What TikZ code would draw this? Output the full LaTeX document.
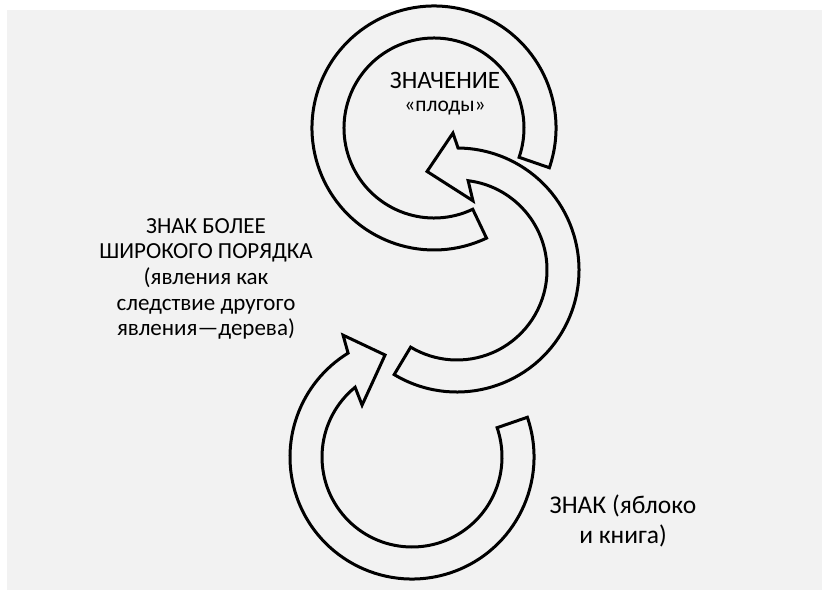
\documentclass[tikz,border=0pt]{standalone}
\usepackage{fontspec}
\setmainfont{Carlito}
\usetikzlibrary{calc}
\definecolor{bg}{HTML}{F2F2F2}
\begin{document}
\begin{tikzpicture}[x=1pt,y=1pt,
  band/.style={draw=black, line width=3pt, fill=bg, line join=miter},
  lbl/.style={align=center, text=black, inner sep=0pt}]
\useasboundingbox (0,0) rectangle (822,590);
\fill[white] (0,0) rectangle (822,590);
\fill[bg] (7,0) rectangle (822,580);
\coordinate (c1) at (434,462);
\coordinate (c2) at (457,320);
\coordinate (c3) at (412,133);
% top ring (no head)
\draw[band] ($(c1)+(-19:122)$) arc[start angle=-19, end angle=295.5, radius=122pt]
  -- ($(c1)+(295.5:90)$) arc[start angle=295.5, end angle=-19, radius=90pt] -- cycle;
% middle arrow
\draw[band] ($(c2)+(-121:122)$) arc[start angle=-121, end angle=89.5, radius=122pt]
  -- ($(c2)+(91.7:137)$) -- ($(c2)+(106.9:103)$) -- ($(c2)+(77:71)$)
  -- ($(c2)+(82.9:90)$) arc[start angle=82.9, end angle=-121, radius=90pt] -- cycle;
% bottom arrow
\draw[band] ($(c3)+(19:122)$) arc[start angle=19, end angle=-238.4, radius=122pt]
  -- ($(c3)+(119.5:140)$) -- ($(c3)+(104.8:105.5)$) -- ($(c3)+(133.9:72)$)
  -- ($(c3)+(-230.8:90)$) arc[start angle=-230.8, end angle=19, radius=90pt] -- cycle;
% labels
\node[lbl, font=\fontsize{25}{28}\selectfont] (t1) at (445,510) {ЗНАЧЕНИЕ};
\node[lbl, font=\fontsize{21.5}{24}\selectfont] (t2) at (445,482) {«плоды»};
\node[lbl, font=\fontsize{23}{25.7}\selectfont] (t3) at (206,311)
  {ЗНАК БОЛЕЕ\\ШИРОКОГО ПОРЯДКА\\(явления как\\следствие другого\\явления—дерева)};
\node[lbl, font=\fontsize{25.5}{30.5}\selectfont] (t4) at (623,69) {ЗНАК (яблоко\\и книга)};
\end{tikzpicture}
\end{document}
